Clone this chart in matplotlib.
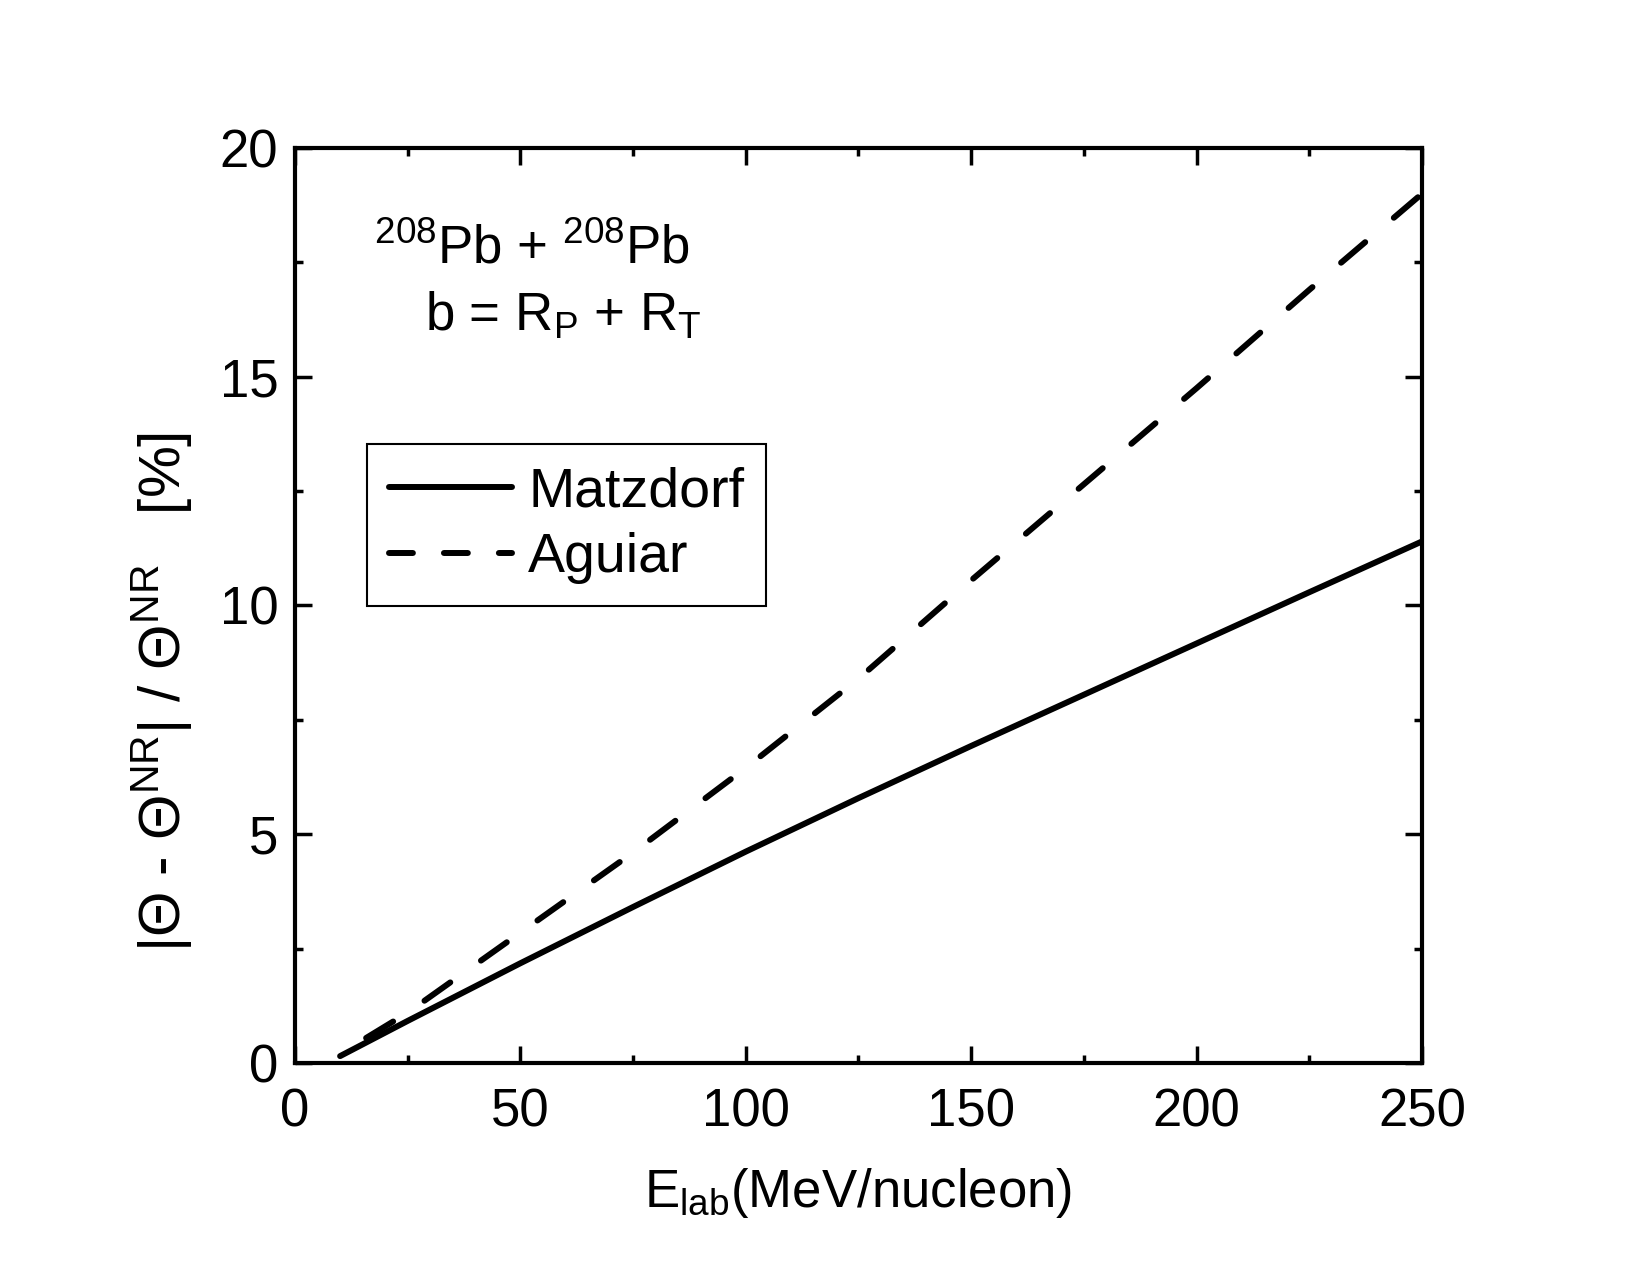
import matplotlib
matplotlib.use("Agg")
import matplotlib.pyplot as plt
from matplotlib.lines import Line2D
from matplotlib.ticker import MultipleLocator

# Data
e_lab = [10, 25, 50, 75, 100, 125, 150, 175, 200, 225, 250]
matzdorf = [0.15, 0.92, 2.18, 3.41, 4.62, 5.79, 6.93, 8.05, 9.17, 10.29, 11.4]
aguiar = [0.2, 1.1, 2.85, 4.6, 6.45, 8.4, 10.55, 12.65, 14.75, 16.9, 19.0]

plt.rcParams['font.family'] = ['Liberation Sans', 'DejaVu Sans']
plt.rcParams['mathtext.default'] = 'regular'

fig = plt.figure(figsize=(16.5, 12.75), dpi=100)
ax = fig.add_axes([0.1788, 0.1663, 0.683, 0.7176])

lw = 4.3
l1, = ax.plot(e_lab, matzdorf, color='black', lw=lw, solid_capstyle='round',
              solid_joinstyle='round', label='Matzdorf')
ax.plot(e_lab, aguiar, color='black', lw=lw, ls=(6.5, (5.3, 6.3)),
        dash_capstyle='round', dash_joinstyle='round')
# legend sample uses a shorter dash, as in the original
l2 = Line2D([], [], color='black', lw=lw, ls=(0, (4.0, 5.2)),
            dash_capstyle='round', label='Aguiar')

ax.set_xlim(0, 250)
ax.set_ylim(0, 20)
ax.xaxis.set_major_locator(MultipleLocator(50))
ax.xaxis.set_minor_locator(MultipleLocator(25))
ax.yaxis.set_major_locator(MultipleLocator(5))
ax.yaxis.set_minor_locator(MultipleLocator(2.5))
ax.tick_params(which='both', direction='in', top=True, right=True, width=2.5,
               labelsize=38)
ax.tick_params(axis='x', pad=18)
ax.tick_params(axis='y', pad=12)
ax.tick_params(which='major', length=12)
ax.tick_params(which='minor', length=6)
for s in ax.spines.values():
    s.set_linewidth(3)

ax.set_xlabel('E$_{lab}$(MeV/nucleon)', fontsize=38, labelpad=20)
ax.set_ylabel('|Θ - Θ$^{NR}$| / Θ$^{NR}$   [%]', fontsize=42)
ax.yaxis.set_label_coords(-0.09, 0.405)

ax.text(0.21, 0.889, '$^{208}$Pb + $^{208}$Pb', transform=ax.transAxes,
        fontsize=38, ha='center', va='center')
ax.text(0.238, 0.816, 'b = R$_P$ + R$_T$', transform=ax.transAxes,
        fontsize=38, ha='center', va='center')

leg = ax.legend(handles=[l1, l2], loc='upper left', bbox_to_anchor=(0.064, 0.6765),
                fontsize=40, frameon=True, fancybox=False, edgecolor='black',
                framealpha=1, borderaxespad=0, handlelength=2.2, handletextpad=0.3,
                labelspacing=0.25, borderpad=0.4)
leg.get_frame().set_linewidth(1.5)

fig.savefig('out.png', dpi=100)
